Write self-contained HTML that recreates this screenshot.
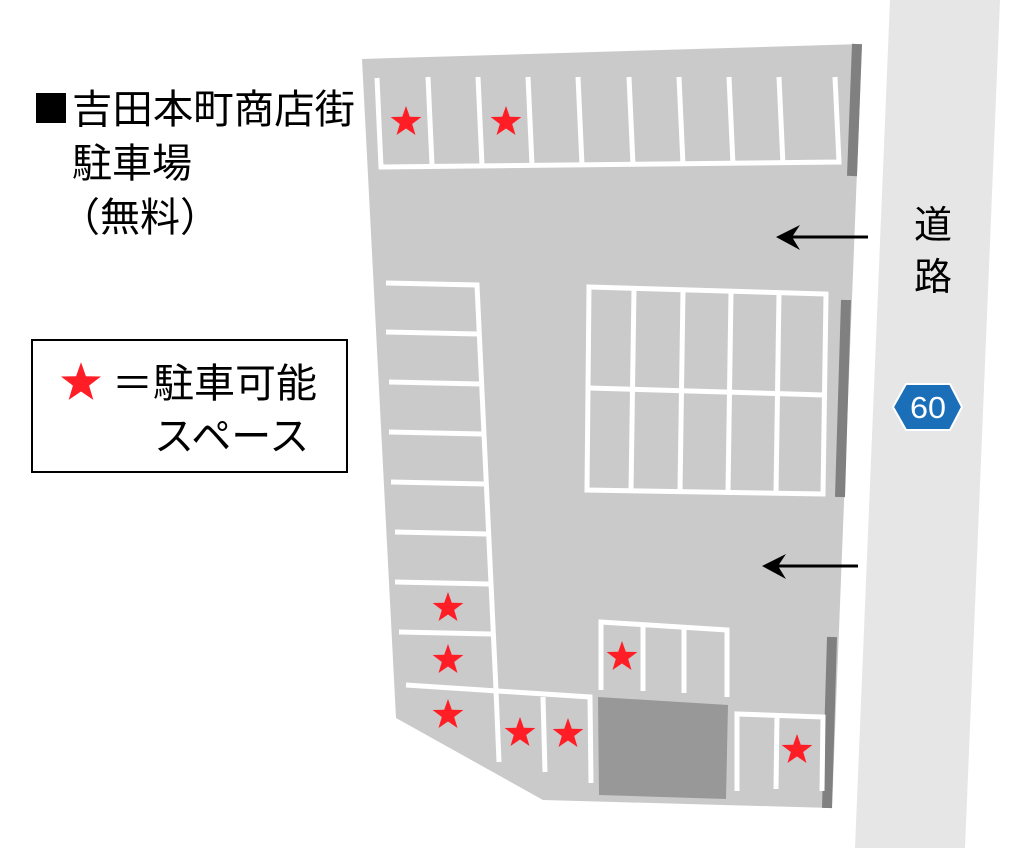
<!DOCTYPE html>
<html><head><meta charset="utf-8"><style>
html,body{margin:0;padding:0;background:#fff;width:1024px;height:848px;overflow:hidden}
svg{display:block}
text{font-family:"Liberation Sans","Noto Sans CJK JP",sans-serif}
</style></head><body>
<svg width="1024" height="848" viewBox="0 0 1024 848">
<defs><polygon id="s" points="0,-16 3.8,-5.2 15.4,-5 6.2,2 9.5,13 0,6.5 -9.5,13 -6.2,2 -15.4,-5 -3.8,-5.2"/></defs>
<polygon points="890,0 1000,0 965,848 855,848" fill="#e6e6e6"/>
<polygon points="362,59 862,44 832,808 543,800 396,718" fill="#cacaca"/>
<g stroke="#808080" stroke-width="10">
<line x1="857" y1="44" x2="852" y2="176"/>
<line x1="846" y1="300" x2="840" y2="497"/>
<line x1="832" y1="637" x2="827" y2="808"/>
</g>
<g stroke="#fff" stroke-width="5" fill="none">
<polyline points="377,78 381,167 839,162 835,77"/>
<line x1="428" y1="77" x2="432" y2="165"/><line x1="478" y1="77" x2="482" y2="165"/>
<line x1="528" y1="77" x2="532" y2="165"/><line x1="578" y1="77" x2="582" y2="165"/>
<line x1="629" y1="77" x2="633" y2="165"/><line x1="679" y1="77" x2="683" y2="165"/>
<line x1="729" y1="77" x2="733" y2="165"/><line x1="779" y1="77" x2="783" y2="165"/>
<polyline points="386,283 477,285 496,690"/>
<line x1="386" y1="332" x2="478" y2="334"/><line x1="389" y1="382" x2="480" y2="384"/>
<line x1="389" y1="432" x2="482" y2="434"/><line x1="391" y1="482" x2="485" y2="484"/>
<line x1="395" y1="532" x2="487" y2="534"/><line x1="395" y1="582" x2="489" y2="584"/>
<line x1="399" y1="632" x2="491" y2="634"/>
<polyline points="406,685 590,697 591,783"/>
<line x1="496" y1="690" x2="499" y2="762"/><line x1="543" y1="697" x2="545" y2="772"/>
<polygon points="589,287 826,294 823,494 587,490"/>
<line x1="589" y1="388" x2="824" y2="395"/>
<line x1="634" y1="289" x2="631" y2="491"/><line x1="683" y1="290" x2="680" y2="491"/>
<line x1="731" y1="292" x2="728" y2="492"/><line x1="779" y1="293" x2="776" y2="493"/>
<polyline points="601,690 601,622 727,630 727,697"/>
<line x1="643" y1="626" x2="643" y2="691"/><line x1="684" y1="628" x2="684" y2="693"/>
<polyline points="737,791 737,714 823,717 822,791"/>
<line x1="777" y1="716" x2="776" y2="789"/>
</g>
<polygon points="598,697 728,705 726,799 599,795" fill="#989898"/>
<rect x="32" y="340" width="315" height="132" fill="#fff" stroke="#000" stroke-width="2"/>
<g fill="#ff1e26">
<use href="#s" x="406" y="122"/><use href="#s" x="506" y="122"/>
<use href="#s" x="448" y="608"/><use href="#s" x="448" y="660"/><use href="#s" x="448" y="715"/>
<use href="#s" x="520" y="733"/><use href="#s" x="568" y="734"/>
<use href="#s" x="622" y="657"/><use href="#s" x="797" y="750"/>
<use href="#s" transform="translate(81,383) scale(1.3)"/>
</g>
<g stroke="#000" stroke-width="3" fill="#000">
<line x1="790" y1="237" x2="868" y2="237"/><polygon points="776,237 800,225 792,237 800,250" stroke="none"/>
<line x1="776" y1="566" x2="858" y2="566"/><polygon points="762,566 786,554 778,566 786,579" stroke="none"/>
</g>
<polygon points="893,407 906,384 950,384 962,407 950,430 906,430" fill="#1b6fb9" stroke="#fff" stroke-width="2"/>
<text x="928" y="418" font-size="31" fill="#fff" text-anchor="middle" textLength="36" lengthAdjust="spacingAndGlyphs">60</text>
<text x="914" y="238" font-size="38" fill="#000">道</text>
<text x="914" y="290" font-size="38" fill="#000">路</text>
<rect x="36" y="93" width="30" height="30" fill="#000"/>
<text x="72" y="123" font-size="40" fill="#000" textLength="283" lengthAdjust="spacingAndGlyphs">吉田本町商店街</text>
<text x="72" y="177" font-size="40" fill="#000">駐車場</text>
<text x="60" y="231" font-size="40" fill="#000">（無料）</text>
<text x="112" y="397" font-size="40" fill="#000" textLength="205" lengthAdjust="spacingAndGlyphs">＝駐車可能</text>
<text x="154" y="450" font-size="40" fill="#000">スペース</text>
</svg>
</body></html>
